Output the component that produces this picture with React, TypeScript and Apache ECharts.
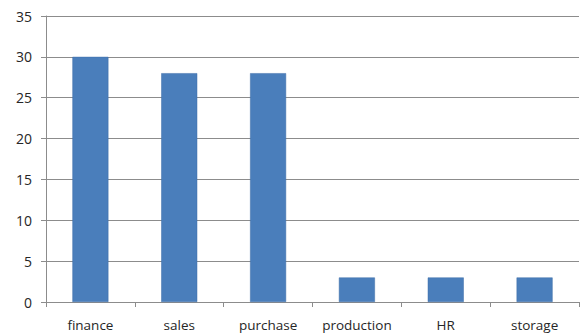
import React, { useEffect, useRef } from "react";
import * as echarts from "echarts";

const categories = ["finance", "sales", "purchase", "production", "HR", "storage"];
const values = [30, 28, 28, 3, 3, 3];
const yMin = 0;
const yMax = 35;
const yStep = 5;

export default function App() {
  const ref = useRef<HTMLDivElement>(null);
  useEffect(() => {
    document.body.style.margin = "0";
    const chart = echarts.init(ref.current!, null, { renderer: "svg" });
    const font = "'Open Sans', 'DejaVu Sans', sans-serif";
    chart.setOption({
      animation: false,
      backgroundColor: "#ffffff",
      grid: { left: 46, right: 2, top: 16, bottom: 34, containLabel: false },
      xAxis: {
        type: "category",
        data: categories,
        axisLine: { show: true, lineStyle: { color: "#8c8c8c", width: 1 } },
        axisTick: { show: true, length: 5, interval: 0, alignWithLabel: false, lineStyle: { color: "#8c8c8c" } },
        axisLabel: { interval: 0, hideOverlap: false, color: "#262626", fontSize: 13.5, fontFamily: font, margin: 16 },
        splitLine: { show: false },
      },
      yAxis: {
        type: "value",
        min: yMin,
        max: yMax,
        interval: yStep,
        axisLine: { show: true, lineStyle: { color: "#8c8c8c", width: 1 } },
        axisTick: { show: true, length: 5, lineStyle: { color: "#8c8c8c" } },
        axisLabel: { color: "#262626", fontSize: 14, fontFamily: font, margin: 14 },
        splitLine: { show: true, lineStyle: { color: "#8c8c8c", width: 1 } },
      },
      series: [
        {
          type: "bar",
          data: values,
          barWidth: 36,
          itemStyle: { color: "#4a7ebb", borderColor: "#3f6fa8", borderWidth: 0.5 },
        },
      ],
    });
    return () => chart.dispose();
  }, []);
  return <div ref={ref} style={{ width: 581, height: 336 }} />;
}
